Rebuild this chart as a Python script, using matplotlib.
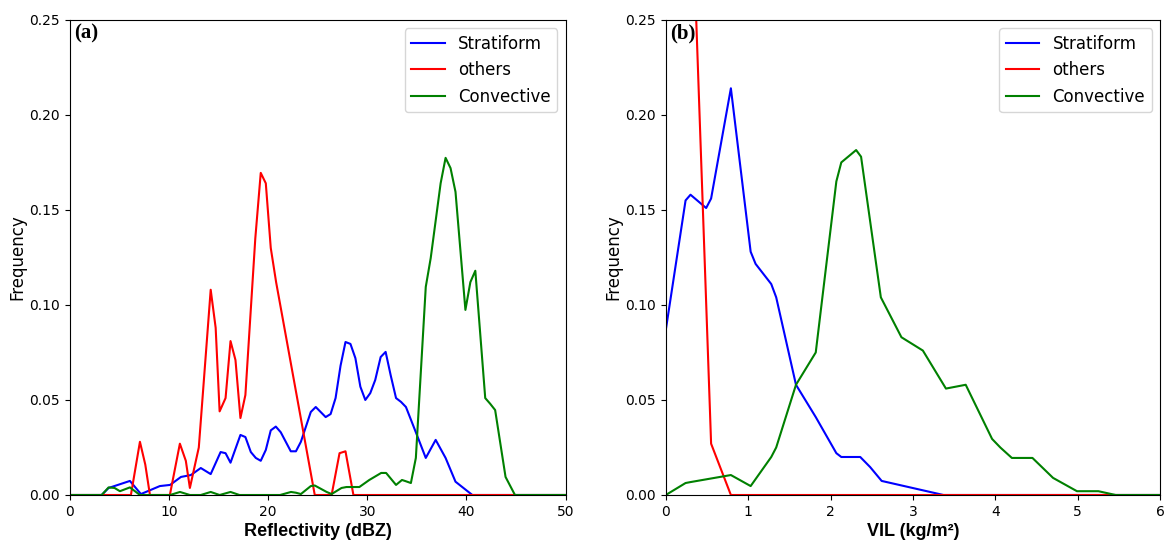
import matplotlib
matplotlib.use("Agg")
import matplotlib.pyplot as plt

# ---------------- Panel (a): Reflectivity ----------------
refl_strat_x = [0, 3.2, 3.9, 6.05, 7.16, 9.07, 10.1, 11.2, 12.2, 13.2, 14.2, 15.2, 15.7, 16.2,
                17.2, 17.7, 18.25, 18.75, 19.25, 19.76, 20.26, 20.77, 21.27, 22.28, 22.8, 23.3,
                24.3, 24.8, 25.8, 26.3, 26.8, 27.3, 27.8, 28.3, 28.8, 29.3, 29.8, 30.3, 30.8,
                31.35, 31.85, 32.36, 32.9, 33.4, 33.9, 34.9, 35.9, 36.9, 37.9, 38.9, 40.6, 50]
refl_strat_y = [0, 0, 0.0037, 0.0074, 0.0005, 0.0047, 0.0053, 0.0095, 0.0105, 0.0142, 0.011,
                0.0226, 0.022, 0.017, 0.0316, 0.0305, 0.0226, 0.0195, 0.018, 0.0237, 0.034,
                0.036, 0.033, 0.023, 0.023, 0.028, 0.0437, 0.0463, 0.041, 0.0426, 0.051, 0.068,
                0.0805, 0.0795, 0.072, 0.057, 0.050, 0.0536, 0.0605, 0.0726, 0.0753, 0.063,
                0.051, 0.049, 0.0463, 0.033, 0.0195, 0.029, 0.0195, 0.007, 0.0, 0]

refl_other_x = [0, 6.15, 7.06, 7.6, 8.07, 10.08, 11.09, 11.69, 12.1, 13.0, 14.2, 14.7, 15.1,
                15.7, 16.2, 16.7, 17.2, 17.7, 18.7, 19.25, 19.76, 20.26, 20.8, 24.7, 26.4,
                27.2, 27.8, 28.6, 50]
refl_other_y = [0, 0, 0.028, 0.016, 0.0, 0, 0.027, 0.018, 0.0037, 0.025, 0.108, 0.088, 0.044,
                0.051, 0.081, 0.071, 0.0405, 0.0526, 0.135, 0.1695, 0.164, 0.13, 0.112, 0.0,
                0, 0.022, 0.023, 0, 0]

refl_conv_x = [0, 3.2, 3.9, 4.5, 5.04, 6.05, 7.06, 10.1, 11.1, 12.1, 13.2, 14.2, 15.1, 16.2,
               17.1, 21.2, 22.3, 22.8, 23.3, 24.3, 24.7, 25.9, 26.4, 27.4, 27.9, 29.2, 30.2,
               31.4, 31.9, 32.9, 33.5, 33.8, 34.4, 34.9, 35.9, 36.4, 37.4, 37.9, 38.4, 38.9,
               39.9, 40.4, 40.9, 41.9, 42.4, 42.9, 43.95, 44.9, 50]
refl_conv_y = [0, 0, 0.004, 0.0037, 0.002, 0.004, 0, 0, 0.0016, 0, 0, 0.0016, 0, 0.0016,
               0, 0, 0.0016, 0.0012, 0.0005, 0.0047, 0.005, 0.0016, 0.0005, 0.0037, 0.0042,
               0.0042, 0.0079, 0.0116, 0.0116, 0.0053, 0.0079, 0.0074, 0.0063, 0.0195, 0.1095,
               0.1247, 0.164, 0.1774, 0.172, 0.1595, 0.0974, 0.112, 0.118, 0.051, 0.048,
               0.0447, 0.0095, 0, 0]

# ---------------- Panel (b): VIL ----------------
vil_strat_x = [0, 0.24, 0.30, 0.49, 0.55, 0.79, 1.03, 1.09, 1.28, 1.34, 1.58, 1.82, 2.07,
               2.13, 2.36, 2.48, 2.62, 3.37, 6]
vil_strat_y = [0.0868, 0.155, 0.158, 0.151, 0.156, 0.214, 0.128, 0.1216, 0.111, 0.104, 0.058,
               0.041, 0.022, 0.020, 0.020, 0.0147, 0.0074, 0.0, 0]

vil_other_x = [0, 0.24, 0.55, 0.79, 6]
vil_other_y = [0.6, 0.41, 0.027, 0.0, 0]

vil_conv_x = [0, 0.24, 0.30, 0.79, 1.03, 1.28, 1.34, 1.58, 1.82, 2.07, 2.13, 2.31, 2.37,
              2.61, 2.86, 3.12, 3.40, 3.64, 3.96, 4.06, 4.20, 4.45, 4.70, 4.99, 5.25, 5.46, 6]
vil_conv_y = [0, 0.0063, 0.0068, 0.0105, 0.0047, 0.020, 0.025, 0.058, 0.075, 0.165, 0.175,
              0.1815, 0.178, 0.104, 0.083, 0.076, 0.056, 0.058, 0.0295, 0.025, 0.0195, 0.0195,
              0.009, 0.002, 0.002, 0.0, 0]

series_labels = ["Stratiform", "others", "Convective"]
series_colors = ["blue", "red", "green"]
y_ticks = [0.00, 0.05, 0.10, 0.15, 0.20, 0.25]

fig = plt.figure(figsize=(11.66, 5.43), dpi=100)
axA = fig.add_axes([0.060, 0.0884, 0.425, 0.875])
axB = fig.add_axes([0.571, 0.0884, 0.424, 0.875])

panels = [
    (axA, [(refl_strat_x, refl_strat_y), (refl_other_x, refl_other_y), (refl_conv_x, refl_conv_y)],
     (0, 50), [0, 10, 20, 30, 40, 50], "Reflectivity (dBZ)", "(a)"),
    (axB, [(vil_strat_x, vil_strat_y), (vil_other_x, vil_other_y), (vil_conv_x, vil_conv_y)],
     (0, 6), [0, 1, 2, 3, 4, 5, 6], "VIL (kg/m\u00b2)", "(b)"),
]

for ax, data, xlim, xticks, xlabel, tag in panels:
    for (xs, ys), lab, col in zip(data, series_labels, series_colors):
        ax.plot(xs, ys, color=col, lw=1.5, label=lab)
    ax.set_xlim(*xlim)
    ax.set_ylim(0, 0.25)
    ax.set_xticks(xticks)
    ax.set_yticks(y_ticks)
    ax.set_yticklabels([f"{v:.2f}" for v in y_ticks])
    ax.tick_params(labelsize=10)
    ax.set_ylabel("Frequency", fontsize=12, labelpad=2)
    ax.set_xlabel(xlabel, fontsize=13, fontweight="bold", family="Liberation Sans", labelpad=3)
    ax.text(0.008, 0.992, tag, transform=ax.transAxes, ha="left", va="top",
            fontsize=15, fontweight="bold", family="Liberation Serif")
    ax.legend(loc="upper right", fontsize=12)

fig.savefig("out.png", dpi=100)
